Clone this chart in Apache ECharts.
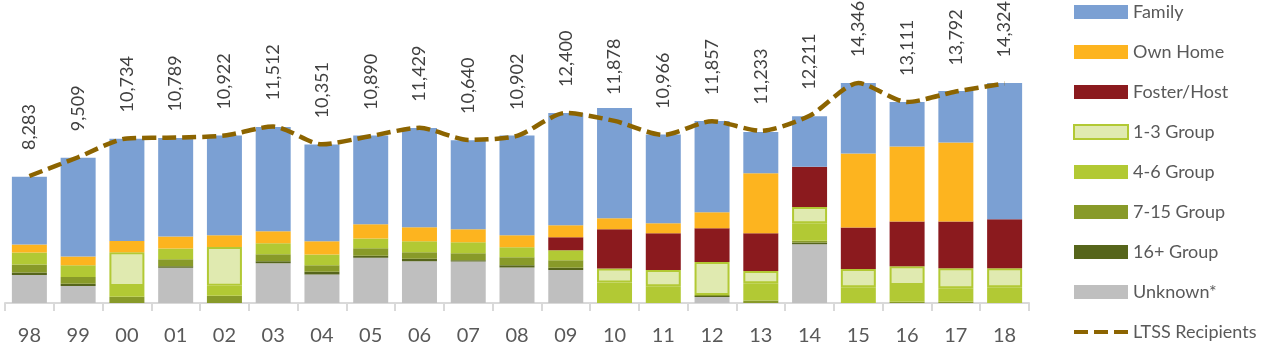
<!DOCTYPE html>
<html>
<head>
<meta charset="utf-8">
<script src="https://cdn.jsdelivr.net/npm/echarts@6/dist/echarts.min.js"></script>
<style>
html,body{margin:0;padding:0;background:#fff;}
#chart{width:1266px;height:346px;}
</style>
</head>
<body>
<div id="chart"></div>
<script>
const categories = ['98','99','00','01','02','03','04','05','06','07','08','09','10','11','12','13','14','15','16','17','18'];
const unknown   = [1820,1105,0,2295,0,2600,1865,2945,2730,2710,2320,2145,0,0,390,0,3835,0,0,0,0];
const group16   = [175,150,0,110,0,130,170,130,150,85,150,150,0,0,65,0,110,0,0,0,0];
const group7_15 = [520,435,410,455,475,455,435,500,435,455,520,500,0,0,65,165,110,0,85,85,0];
const group4_6  = [780,780,700,695,650,715,695,630,715,715,650,650,1345,1085,0,1130,1150,1020,1085,870,1020];
const group1_3  = [0,0,2200,0,2535,0,0,0,0,0,0,0,910,1060,2150,800,1060,1190,1235,1320,1255];
const foster    = [0,0,0,0,0,0,0,0,0,0,0,845,2555,2405,2210,2450,2620,2710,2905,3035,3185];
const ownHome   = [520,565,735,780,760,780,865,930,910,845,780,780,715,650,1040,3920,0,4830,4895,5155,0];
const family    = [4420,6435,6675,6435,6500,6805,6305,5785,6480,5805,6500,7325,7195,5785,5960,2685,3295,4595,2905,3360,8885];
const ltss      = [8283,9509,10734,10789,10922,11512,10351,10890,11429,10640,10902,12400,11878,10966,11857,11233,12211,14346,13111,13792,14324];

const FONT = 'Lato';
const LINE_COLOR = '#8c6400';
const nz = a => a.map(v => (v === 0 ? '-' : v));

const barDefs = [
  {name:'Unknown*',   data:unknown,   color:'#bfbfbf'},
  {name:'16+ Group',  data:group16,   color:'#56651b'},
  {name:'7-15 Group', data:group7_15, color:'#889a29'},
  {name:'4-6 Group',  data:group4_6,  color:'#b2c934'},
  {name:'1-3 Group',  data:group1_3,  color:'#e0eab0', border:'#b2c934'},
  {name:'Foster/Host',data:foster,    color:'#8b1a1e'},
  {name:'Own Home',   data:ownHome,   color:'#fdb41f'},
  {name:'Family',     data:family,    color:'#7ba0d3'}
];

const series = barDefs.map(d => ({
  name: d.name,
  type: 'bar',
  stack: 'total',
  barWidth: 35,
  data: nz(d.data),
  itemStyle: d.border ? {color:d.color, borderColor:d.border, borderWidth:2} : {color:d.color},
  emphasis:{disabled:true}
}));

series.push({
  name:'LTSS Recipients',
  type:'line',
  data: ltss,
  smooth: 0.25,
  symbol:'circle',
  symbolSize:2,
  showSymbol:true,
  showAllSymbol:true,
  z: 10,
  lineStyle:{color:LINE_COLOR, width:4.5, type:[14,6]},
  itemStyle:{color:'rgba(0,0,0,0)', borderWidth:0},
  emphasis:{disabled:true},
  labelLayout:{hideOverlap:false},
  label:{
    show:true,
    position:'top',
    distance:25,
    rotate:90,
    align:'left',
    verticalAlign:'middle',
    fontFamily:FONT,
    fontSize:18,
    color:'#404040',
    formatter: p => Number(p.value).toLocaleString('en-US')
  }
});

const legendOrder = ['Family','Own Home','Foster/Host','1-3 Group','4-6 Group','7-15 Group','16+ Group','Unknown*'];

const option = {
  animation:false,
  backgroundColor:'#fff',
  grid:{left:5, right:237, top:24, bottom:42, containLabel:false},
  legend:{
    orient:'vertical',
    left:1073,
    top:3,
    height:343,
    padding:0,
    itemWidth:54,
    itemHeight:14,
    itemGap:22,
    textStyle:{fontFamily:FONT, fontSize:18, color:'#595959', lineHeight:18},
    data: legendOrder.map(n => ({name:n, icon:'rect'})).concat([{
      name:'LTSS Recipients',
      icon:'path://M0,0 L14,0 L14,4 L0,4 Z M20,0 L34,0 L34,4 L20,4 Z M40,0 L54,0 L54,4 L40,4 Z',
      itemHeight:5,
      itemStyle:{color:LINE_COLOR, borderWidth:0}
    }])
  },
  xAxis:{
    type:'category',
    data:categories,
    axisLine:{lineStyle:{color:'#d9d9d9', width:2}},
    axisTick:{show:true, length:8, lineStyle:{color:'#d9d9d9', width:2}},
    axisLabel:{fontFamily:FONT, fontSize:20, color:'#595959', margin:23}
  },
  yAxis:{
    type:'value',
    min:0,
    max:18200,
    show:false,
    splitLine:{show:false}
  },
  series
};

const chart = echarts.init(document.getElementById('chart'), null, {renderer:'canvas'});
chart.setOption(option);
</script>
</body>
</html>
